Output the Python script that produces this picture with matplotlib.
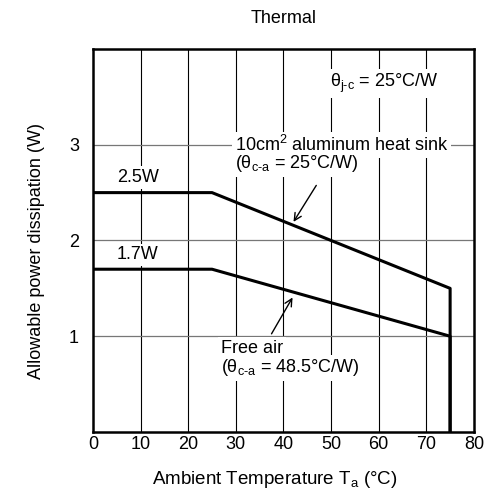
import matplotlib.pyplot as plt
import numpy as np

plt.rcParams['font.family'] = ['Liberation Sans', 'DejaVu Sans']
plt.rcParams['mathtext.fontset'] = 'custom'
plt.rcParams['mathtext.rm'] = 'Liberation Sans'
plt.rcParams['mathtext.it'] = 'Liberation Sans:italic'

# derating curves
heatsink_t = [0, 25, 75, 75]
heatsink_p = [2.5, 2.5, 1.5, 0]
freeair_t = [0, 25, 75, 75]
freeair_p = [1.7, 1.7, 1.0, 0]

xticks = [0, 10, 20, 30, 40, 50, 60, 70, 80]
yticks = [1, 2, 3]

fs = 13

fig = plt.figure(figsize=(4.96, 4.92), dpi=100)
ax = fig.add_axes([0.1875, 0.122, 0.768, 0.7784])

for x in xticks[1:-1]:
    ax.axvline(x, color='black', lw=0.8, zorder=1)
for y in yticks:
    ax.axhline(y, color='#777777', lw=0.9, zorder=1)

ax.plot(heatsink_t, heatsink_p, color='black', lw=2.2, zorder=3)
ax.plot(freeair_t, freeair_p, color='black', lw=2.2, zorder=3)

ax.set_xlim(0, 80)
ax.set_ylim(0, 4)
ax.set_xticks(xticks)
ax.set_yticks(yticks)
ax.tick_params(axis='x', length=0, labelsize=fs, pad=3)
ax.tick_params(axis='y', length=0, labelsize=fs, pad=10)
for s in ax.spines.values():
    s.set_linewidth(1.8)

box = dict(facecolor='white', edgecolor='none', pad=2)
ax.text(5, 2.66, '2.5W', fontsize=fs, ha='left', va='center', bbox=box, zorder=4)
ax.text(5, 1.85, '1.7W', fontsize=fs, ha='left', va='center', bbox=box, zorder=4)
ax.text(49.8, 3.64, 'θ$_{\\text{j-c}}$ = 25°C/W', fontsize=fs, ha='left', va='center',
        bbox=box, zorder=4)
ax.text(29.8, 3.0, '10cm$^{2}$ aluminum heat sink', fontsize=fs, ha='left',
        va='center', bbox=box, zorder=4)
ax.text(29.8, 2.80, '(θ$_{\\text{c-a}}$ = 25°C/W)', fontsize=fs, ha='left',
        va='center', bbox=box, zorder=4)
ax.text(26.9, 0.87, 'Free air', fontsize=fs, ha='left', va='center', bbox=box, zorder=4)
ax.text(26.9, 0.67, '(θ$_{\\text{c-a}}$ = 48.5°C/W)', fontsize=fs, ha='left',
        va='center', bbox=box, zorder=4)

arrow = dict(arrowstyle='->', color='black', lw=1.0, mutation_scale=13)
ax.annotate('', xy=(41.8, 2.17), xytext=(47.2, 2.6), arrowprops=arrow, zorder=5)
ax.annotate('', xy=(42.2, 1.43), xytext=(37.2, 1.0), arrowprops=arrow, zorder=5)

ax.set_title('Thermal', fontsize=fs, pad=19)
ax.set_xlabel('Ambient Temperature T$_{\\text{a}}$ (°C)', fontsize=13.5)
ax.set_ylabel('Allowable power dissipation (W)', fontsize=fs)
ax.xaxis.set_label_coords(0.478, -0.097)
ax.yaxis.set_label_coords(-0.125, 0.472)

fig.savefig('out.png', dpi=100)
